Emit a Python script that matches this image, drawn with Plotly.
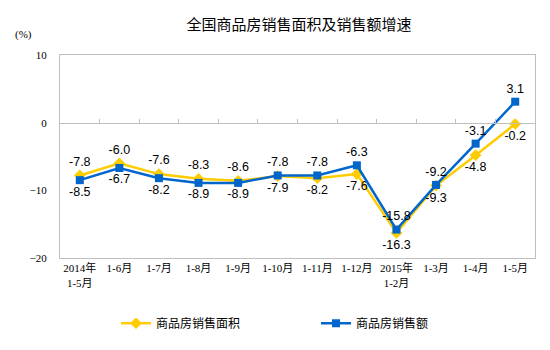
import plotly.graph_objects as go

# Periods (cumulative months) and year-on-year growth rates, %
periods = ["2014年<br>1-5月", "1-6月", "1-7月", "1-8月", "1-9月", "1-10月",
           "1-11月", "1-12月", "2015年<br>1-2月", "1-3月", "1-4月", "1-5月"]
sales_area = [-7.8, -6.0, -7.6, -8.3, -8.6, -7.9, -8.2, -7.6, -16.3, -9.3, -4.8, -0.2]
sales_value = [-8.5, -6.7, -8.2, -8.9, -8.9, -7.8, -7.8, -6.3, -15.8, -9.2, -3.1, 3.1]
y_ticks = [10, 0, -10, -20]

YELLOW = "#FFCC00"
BLUE = "#0066CC"
GRID = "#BFBFBF"
CJK = "Noto Sans CJK SC"
SERIF = "Liberation Serif, " + CJK

# put each series' label on the side away from the other line
area_pos = ["top center" if a >= v else "bottom center" for a, v in zip(sales_area, sales_value)]
value_pos = ["top center" if v > a else "bottom center" for a, v in zip(sales_area, sales_value)]

fig = go.Figure()
fig.add_trace(go.Scatter(
    x=periods, y=sales_area, name="商品房销售面积",
    mode="lines+markers+text",
    line=dict(color=YELLOW, width=2.5),
    marker=dict(symbol="diamond", size=9, color=YELLOW),
    text=[f"{v:.1f}" for v in sales_area], textposition=area_pos,
    textfont=dict(family="Liberation Sans, Arial", size=12.5, color="#000000"),
))
fig.add_trace(go.Scatter(
    x=periods, y=sales_value, name="商品房销售额",
    mode="lines+markers+text",
    line=dict(color=BLUE, width=2.5),
    marker=dict(symbol="square", size=8, color=BLUE),
    text=[f"{v:.1f}" for v in sales_value], textposition=value_pos,
    textfont=dict(family="Liberation Sans, Arial", size=12.5, color="#000000"),
))
# zero-line axis carrying the category boundary ticks
fig.add_trace(go.Scatter(x=periods, y=[None] * len(periods), xaxis="x2",
                         showlegend=False, hoverinfo="skip"))

y_min, y_max = -20, 10
fig.update_layout(
    width=550, height=350,
    margin=dict(l=60, r=15, t=55, b=90),
    paper_bgcolor="white", plot_bgcolor="white",
    title=dict(text="全国商品房销售面积及销售额增速", x=299 / 550, xanchor="center",
               y=1 - 25 / 350, yanchor="middle",
               font=dict(family=CJK, size=15, color="#000000")),
    xaxis=dict(
        type="category", range=[-0.5, len(periods) - 0.5],
        showline=True, linecolor=GRID, linewidth=1, mirror=True,
        ticks="", showgrid=False, zeroline=False,
        tickfont=dict(family=SERIF, size=11, color="#000000"),
    ),
    xaxis2=dict(
        type="category", overlaying="x", anchor="free",
        position=(0 - y_min) / (y_max - y_min),
        range=[-0.5, len(periods) - 0.5],
        showline=True, linecolor=GRID, linewidth=1,
        ticks="inside", tickson="boundaries", ticklen=4, tickcolor=GRID,
        showticklabels=False, showgrid=False, zeroline=False,
    ),
    yaxis=dict(
        range=[y_min, y_max], tickvals=y_ticks,
        showline=True, linecolor=GRID, linewidth=1, mirror=True,
        showgrid=False, zeroline=False, ticks="",
        ticklabelstandoff=10,
        tickfont=dict(family=SERIF, size=11, color="#000000"),
    ),
    legend=dict(
        orientation="h", x=(116 - 60) / 475, xanchor="left",
        y=-0.25, yanchor="top",
        entrywidth=155, entrywidthmode="pixels",
        font=dict(family=CJK, size=12, color="#000000"),
        bgcolor="rgba(0,0,0,0)",
    ),
    annotations=[dict(
        text="(%)", xref="paper", yref="paper",
        x=-(60 - 23) / 475, y=1 + (55 - 34) / 205, xanchor="center", yanchor="middle",
        showarrow=False, font=dict(family=SERIF, size=11, color="#000000"),
    )],
    showlegend=True,
)

fig.write_html("out.html")
